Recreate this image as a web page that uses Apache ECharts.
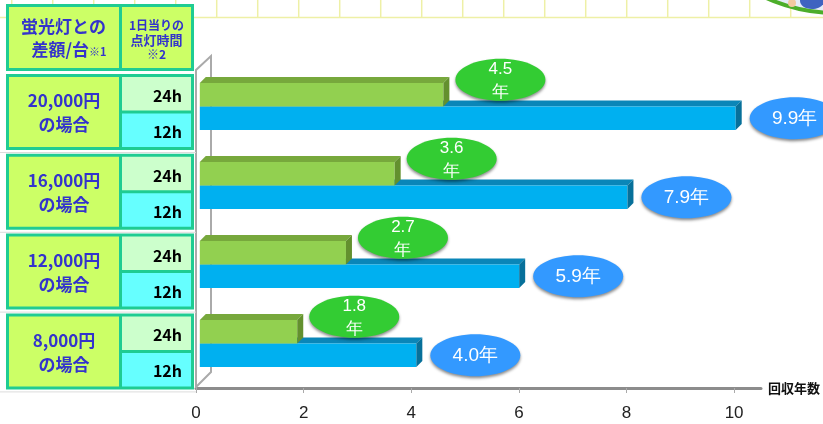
<!DOCTYPE html>
<html>
<head>
<meta charset="utf-8">
<script src="https://cdn.jsdelivr.net/npm/echarts@6/dist/echarts.min.js"></script>
<style>
  html, body { margin: 0; padding: 0; background: #fff; }
  #main { width: 823px; height: 424px; }
</style>
</head>
<body>
<div id="main"></div>
<script>
// Price difference per fixture vs. fluorescent lamps, and payback years
const categories = ['20,000円', '16,000円', '12,000円', '8,000円'];
const hourLabels = ['24h', '12h'];
const payback24h = [4.5, 3.6, 2.7, 1.8];
const payback12h = [9.9, 7.9, 5.9, 4.0];
const xTicks = [0, 2, 4, 6, 8, 10];
const axisName = '回収年数';
const yearUnit = '年';
const headLeft = ['蛍光灯との', '差額/台', '※1'];
const headRight = ['1日当りの', '点灯時間', '※2'];
const caseSuffix = 'の場合';

const JP = '"Noto Sans CJK JP", "Noto Sans", sans-serif';
const NUM = '"Liberation Sans Narrow", "Liberation Sans", "Noto Sans", sans-serif';

const chart = echarts.init(document.getElementById('main'), null, { renderer: 'canvas' });

// bars sit on a plane slightly behind the axis: small shift plus perspective scale
const DEPTH = 6, SHIFT = 3.8, PERSPECTIVE = 1.006, BAR_H = 23.5;
const greenStyle = { front: '#92d050', top: '#77a83c', side: '#63902e', bubble: '#33cc33' };
const blueStyle = { front: '#00b0f0', top: '#0a86b8', side: '#07709a', bubble: '#3399ff' };

function makeRender(colors, upper) {
  return function (params, api) {
    const v = api.value(0);
    const cat = api.value(1);
    const base = api.coord([0, cat]);
    const end = api.coord([v, cat]);
    const top = upper ? base[1] - BAR_H : base[1];
    const bottom = top + BAR_H;
    const xl = base[0] + SHIFT;
    const xr = xl + (end[0] - base[0]) * PERSPECTIVE;
    const d = DEPTH;
    const mid = (top + bottom) / 2;
    const children = [
      { type: 'polygon', shape: { points: [[xl, top], [xl + d, top - d], [xr + d, top - d], [xr, top]] }, style: { fill: colors.top } },
      { type: 'rect', shape: { x: xl, y: top, width: xr - xl, height: BAR_H }, style: { fill: colors.front } },
      { type: 'polygon', shape: { points: [[xr, top], [xr + d, top - d], [xr + d, bottom - d], [xr, bottom]] }, style: { fill: colors.side } }
    ];
    let cx, cy, txt, font, lh;
    if (upper) {
      cx = xr + 57; cy = mid - 15;
      txt = v.toFixed(1) + '\n' + yearUnit;
      font = '17px ' + NUM; lh = 23;
    } else {
      cx = xr + 59; cy = mid;
      txt = v.toFixed(1) + yearUnit;
      font = '19px ' + NUM; lh = 20;
    }
    children.push({
      type: 'ellipse', shape: { cx: cx, cy: cy, rx: 45, ry: 21 },
      style: { fill: colors.bubble, shadowBlur: 3, shadowOffsetY: 2, shadowColor: 'rgba(0,0,0,0.45)' }
    });
    children.push({
      type: 'text',
      style: { text: txt, x: cx, y: cy + 1, align: 'center', verticalAlign: 'middle', fill: '#fff', font: font, lineHeight: lh }
    });
    return { type: 'group', children: children };
  };
}

// Decorative header strip and table on the left
const graphics = [];
const stripY = 17.5;
graphics.push({ type: 'line', shape: { x1: 0, y1: stripY, x2: 823, y2: stripY }, style: { stroke: '#eef0a6', lineWidth: 1.5 }, z: 0 });
for (let x = 216.7 - 41 * 5; x < 823; x += 41) {
  graphics.push({ type: 'line', shape: { x1: x, y1: 0, x2: x, y2: stripY }, style: { stroke: '#eef0a6', lineWidth: 1.5 }, z: 0 });
}
graphics.push({ type: 'circle', shape: { cx: 836, cy: -156, r: 169 }, style: { fill: '#e4ecf8', stroke: '#4cae2a', lineWidth: 4 }, z: 1 });
graphics.push({ type: 'ellipse', shape: { cx: 812, cy: 1, rx: 12, ry: 8 }, style: { fill: '#3f63c0' }, z: 1 });
graphics.push({ type: 'circle', shape: { cx: 792, cy: 3, r: 4 }, style: { fill: '#f2c9a0' }, z: 1 });

const TEAL = '#1fcc92', CELL_L = '#ccff66', CELL_24 = '#ccffcc', CELL_12 = '#66ffff', TXT = '#3333cc';

// header
graphics.push({ type: 'rect', shape: { x: 6, y: 4, width: 188, height: 67 }, style: { fill: TEAL }, z: 2 });
graphics.push({ type: 'rect', shape: { x: 9, y: 7, width: 110, height: 61 }, style: { fill: CELL_L }, z: 3 });
graphics.push({ type: 'rect', shape: { x: 122, y: 7, width: 69, height: 61 }, style: { fill: CELL_L }, z: 3 });
graphics.push({ type: 'text', style: { text: headLeft[0], x: 63.5, y: 27, align: 'center', verticalAlign: 'middle', fill: TXT, font: 'bold 17px ' + JP }, z: 4 });
graphics.push({ type: 'text', style: { text: headLeft[1], x: 89, y: 50, align: 'right', verticalAlign: 'middle', fill: TXT, font: 'bold 17px ' + JP }, z: 4 });
graphics.push({ type: 'text', style: { text: headLeft[2], x: 89, y: 52, align: 'left', verticalAlign: 'middle', fill: TXT, font: 'bold 11px ' + JP }, z: 4 });
graphics.push({ type: 'text', style: { text: headRight[0], x: 156.5, y: 25, align: 'center', verticalAlign: 'middle', fill: TXT, font: 'bold 12px ' + JP }, z: 4 });
graphics.push({ type: 'text', style: { text: headRight[1], x: 156.5, y: 40, align: 'center', verticalAlign: 'middle', fill: TXT, font: 'bold 13px ' + JP }, z: 4 });
graphics.push({ type: 'text', style: { text: headRight[2], x: 156.5, y: 54, align: 'center', verticalAlign: 'middle', fill: TXT, font: 'bold 12px ' + JP }, z: 4 });

categories.forEach(function (name, i) {
  const c = 112 + 79.8 * i;
  graphics.push({ type: 'line', shape: { x1: 0, y1: c + 40.5, x2: 196, y2: c + 40.5 }, style: { stroke: '#dcdcdc', lineWidth: 1 }, z: 2 });
  graphics.push({ type: 'rect', shape: { x: 6, y: c - 38, width: 188, height: 76 }, style: { fill: TEAL }, z: 2 });
  graphics.push({ type: 'rect', shape: { x: 9, y: c - 35, width: 110, height: 70 }, style: { fill: CELL_L }, z: 3 });
  graphics.push({ type: 'rect', shape: { x: 122, y: c - 35, width: 69, height: 33.5 }, style: { fill: CELL_24 }, z: 3 });
  graphics.push({ type: 'rect', shape: { x: 122, y: c + 1.5, width: 69, height: 33.5 }, style: { fill: CELL_12 }, z: 3 });
  graphics.push({ type: 'text', style: { text: name, x: 64, y: c - 11, align: 'center', verticalAlign: 'middle', fill: TXT, font: 'bold 17px ' + JP }, z: 4 });
  graphics.push({ type: 'text', style: { text: caseSuffix, x: 64, y: c + 13, align: 'center', verticalAlign: 'middle', fill: TXT, font: 'bold 17px ' + JP }, z: 4 });
  graphics.push({ type: 'text', style: { text: hourLabels[0], x: 182, y: c - 16, align: 'right', verticalAlign: 'middle', fill: '#000', font: 'bold 16px ' + JP }, z: 4 });
  graphics.push({ type: 'text', style: { text: hourLabels[1], x: 182, y: c + 20, align: 'right', verticalAlign: 'middle', fill: '#000', font: 'bold 16px ' + JP }, z: 4 });
});

// 3D wall edges of the plot
const wall = '#aaaaaa';
graphics.push({ type: 'polyline', shape: { points: [[196, 388], [196, 70], [211, 56], [211, 372], [196, 387]] }, style: { stroke: wall, lineWidth: 2, fill: null }, z: 1 });

chart.setOption({
  animation: false,
  backgroundColor: '#ffffff',
  grid: { left: 196, right: 61, top: 67, bottom: 41 },
  xAxis: {
    type: 'value', min: 0, max: 10.5, interval: 2, offset: 5,
    axisLine: { show: true, lineStyle: { color: '#8c8c8c', width: 3 } },
    axisTick: { show: true, length: 5, lineStyle: { color: '#aaaaaa' }, customValues: xTicks },
    axisLabel: { customValues: xTicks, margin: 17, fontSize: 17, color: '#222', fontFamily: NUM },
    splitLine: { show: false },
    name: axisName, nameLocation: 'end', nameGap: 7,
    nameTextStyle: { fontWeight: 'bold', fontSize: 13, color: '#111', fontFamily: JP, verticalAlign: 'middle', align: 'left' }
  },
  yAxis: { type: 'category', inverse: true, data: categories, show: false },
  graphic: graphics,
  series: [
    {
      type: 'custom', name: hourLabels[1], clip: false, z: 5,
      encode: { x: 0, y: 1 },
      data: payback12h.map(function (v, i) { return [v, i]; }),
      renderItem: makeRender(blueStyle, false)
    },
    {
      type: 'custom', name: hourLabels[0], clip: false, z: 6,
      encode: { x: 0, y: 1 },
      data: payback24h.map(function (v, i) { return [v, i]; }),
      renderItem: makeRender(greenStyle, true)
    }
  ]
});
</script>
</body>
</html>
